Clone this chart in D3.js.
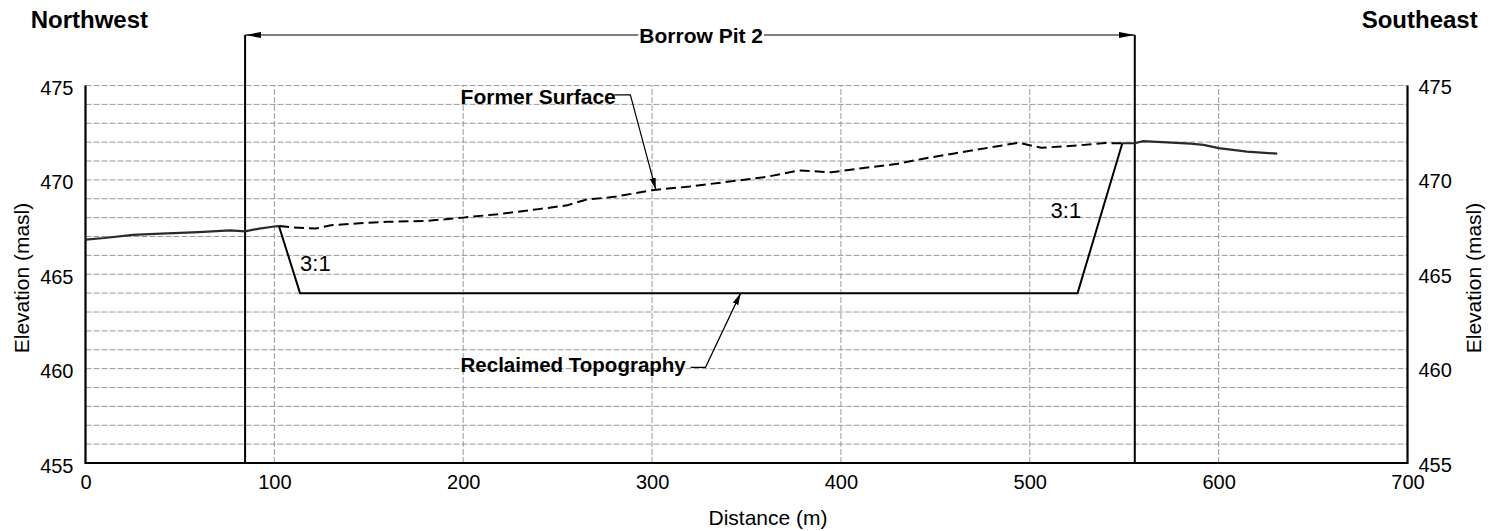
<!DOCTYPE html>
<html>
<head>
<meta charset="utf-8">
<script src="https://cdn.jsdelivr.net/npm/d3@7"></script>
<style>
  html, body { margin: 0; padding: 0; background: #fff; }
  svg { display: block; font-family: "Liberation Sans", Arial, sans-serif; }
</style>
</head>
<body>
<svg id="chart"></svg>
<script>
// Chart size
const width = 1491;
const height = 531;

// Ground west of the pit (solid)
const westDist = [0, 10, 25, 40, 60, 76.6, 84.5, 92, 100, 102.5];
const westElev = [466.83, 466.92, 467.09, 467.15, 467.23, 467.32, 467.27, 467.42, 467.53, 467.55];

// Former surface across the pit (dashed)
const formerDist = [102.5, 110, 122, 130, 145, 160, 180, 200, 220, 240, 255, 265, 280, 300, 320, 340, 360, 378, 395, 410, 430, 445, 460, 478, 494, 506, 525, 540, 549];
const formerElev = [467.55, 467.48, 467.42, 467.6, 467.7, 467.78, 467.82, 468.0, 468.2, 468.45, 468.65, 468.95, 469.1, 469.45, 469.65, 469.9, 470.15, 470.5, 470.4, 470.6, 470.85, 471.15, 471.4, 471.7, 471.97, 471.7, 471.82, 471.95, 471.94];

// Ground east of the pit (solid)
const eastDist = [549, 555.6, 560, 570, 585, 592, 600, 615, 631];
const eastElev = [471.94, 471.94, 472.05, 472.0, 471.92, 471.85, 471.68, 471.5, 471.39];

// Reclaimed topography (pit floor with 3:1 side slopes)
const reclaimDist = [102.5, 113.6, 525.3, 549];
const reclaimElev = [467.53, 464.0, 464.0, 471.94];

// Borrow pit limits
const pitLimits = [84.5, 555.6];

// Ticks
const xTicks = [0, 100, 200, 300, 400, 500, 600, 700];
const xGrid = [100, 200, 300, 400, 500, 600];
const yTicks = [455, 460, 465, 470, 475];
const yGrid = d3.range(456, 476);

const svg = d3.select("#chart")
    .attr("width", width)
    .attr("height", height);

const x = d3.scaleLinear().domain([0, 700]).range([85.5, 1407.5]);
const y = d3.scaleLinear().domain([455, 475]).range([463, 85.5]);

// Markers
const defs = svg.append("defs");
defs.append("marker")
    .attr("id", "arrowLong")
    .attr("viewBox", "0 0 16 6")
    .attr("refX", 16).attr("refY", 3)
    .attr("markerUnits", "userSpaceOnUse")
    .attr("markerWidth", 16).attr("markerHeight", 6)
    .attr("orient", "auto-start-reverse")
    .append("path").attr("d", "M0,0L16,3L0,6Z").attr("fill", "#000");
defs.append("marker")
    .attr("id", "arrowLeader")
    .attr("viewBox", "0 0 12 6")
    .attr("refX", 12).attr("refY", 3)
    .attr("markerUnits", "userSpaceOnUse")
    .attr("markerWidth", 12).attr("markerHeight", 6)
    .attr("orient", "auto")
    .append("path").attr("d", "M0,0L12,3L0,6Z").attr("fill", "#000");

// Gridlines
svg.append("g")
    .selectAll("line")
    .data(yGrid)
    .enter().append("line")
    .attr("x1", x(0)).attr("x2", x(700))
    .attr("y1", d => y(d)).attr("y2", d => y(d))
    .attr("stroke", "#9a9a9a")
    .attr("stroke-width", 1)
    .attr("stroke-dasharray", "6,2");

svg.append("g")
    .selectAll("line")
    .data(xGrid)
    .enter().append("line")
    .attr("x1", d => x(d)).attr("x2", d => x(d))
    .attr("y1", y(455)).attr("y2", y(475))
    .attr("stroke", "#9a9a9a")
    .attr("stroke-width", 1)
    .attr("stroke-dasharray", "6,2");

// Frame: left, bottom, right
svg.append("path")
    .attr("d", `M${x(0)},${y(475)}V${y(455)}H${x(700)}V${y(475)}`)
    .attr("fill", "none")
    .attr("stroke", "#000")
    .attr("stroke-width", 2.2);

// Axes (labels only)
const fontFam = "'Liberation Sans', Arial, sans-serif";

const xAxis = svg.append("g")
    .attr("transform", `translate(0,${y(455)})`)
    .call(d3.axisBottom(x).tickValues(xTicks).tickSize(0).tickPadding(12).tickFormat(d3.format("d")));
const yAxisL = svg.append("g")
    .attr("transform", `translate(${x(0)},0)`)
    .call(d3.axisLeft(y).tickValues(yTicks).tickSize(0).tickPadding(12).tickFormat(d3.format("d")));
const yAxisR = svg.append("g")
    .attr("transform", `translate(${x(700)},0)`)
    .call(d3.axisRight(y).tickValues(yTicks).tickSize(0).tickPadding(11).tickFormat(d3.format("d")));

[xAxis, yAxisL, yAxisR].forEach(g => {
    g.select(".domain").remove();
    g.selectAll("text")
        .attr("font-family", fontFam)
        .attr("font-size", 20)
        .attr("fill", "#000");
});
yAxisL.selectAll("text").attr("dy", "0.45em");
yAxisR.selectAll("text").attr("dy", "0.4em");

// Borrow pit limit lines
const bracketY = 35;
svg.append("g")
    .selectAll("line")
    .data(pitLimits)
    .enter().append("line")
    .attr("x1", d => x(d)).attr("x2", d => x(d))
    .attr("y1", bracketY).attr("y2", y(455))
    .attr("stroke", "#000")
    .attr("stroke-width", 2);

// Bracket with arrows and label
svg.append("line")
    .attr("x1", x(pitLimits[0])).attr("x2", x(pitLimits[1]))
    .attr("y1", bracketY).attr("y2", bracketY)
    .attr("stroke", "#000")
    .attr("stroke-width", 1.2)
    .attr("marker-start", "url(#arrowLong)")
    .attr("marker-end", "url(#arrowLong)");

const pitLabel = svg.append("text")
    .attr("x", x(326))
    .attr("y", bracketY + 8)
    .attr("text-anchor", "middle")
    .attr("font-family", fontFam)
    .attr("font-weight", "bold")
    .attr("font-size", 21)
    .text("Borrow Pit 2");
const bb = pitLabel.node().getBBox();
svg.insert("rect", () => pitLabel.node())
    .attr("x", bb.x - 1).attr("y", bracketY - 3)
    .attr("width", bb.width + 2).attr("height", 6)
    .attr("fill", "#fff");

// Terrain lines
const line = d3.line()
    .x(d => x(d[0]))
    .y(d => y(d[1]));

const west = d3.zip(westDist, westElev);
const former = d3.zip(formerDist, formerElev);
const east = d3.zip(eastDist, eastElev);
const reclaim = d3.zip(reclaimDist, reclaimElev);

svg.append("path")
    .datum(former)
    .attr("d", line)
    .attr("fill", "none")
    .attr("stroke", "#000")
    .attr("stroke-width", 2)
    .attr("stroke-dasharray", "10,5");

[west, east].forEach(seg => {
    svg.append("path")
        .datum(seg)
        .attr("d", line)
        .attr("fill", "none")
        .attr("stroke", "#2a2a2a")
        .attr("stroke-width", 2.2);
});

svg.append("path")
    .datum(reclaim)
    .attr("d", line)
    .attr("fill", "none")
    .attr("stroke", "#000")
    .attr("stroke-width", 2)
    .attr("stroke-linejoin", "miter");

// Slope labels
svg.append("text")
    .attr("x", x(113.6)).attr("y", y(465.15))
    .attr("font-family", fontFam).attr("font-size", 22)
    .text("3:1");
svg.append("text")
    .attr("x", x(511)).attr("y", y(468.0))
    .attr("font-family", fontFam).attr("font-size", 22)
    .text("3:1");

// Callouts
svg.append("text")
    .attr("x", x(198.6)).attr("y", y(474.02))
    .attr("font-family", fontFam).attr("font-weight", "bold").attr("font-size", 21)
    .text("Former Surface");
svg.append("path")
    .attr("d", `M${x(280)},${y(474.5)}H${x(288.5)}L${x(302)},${y(469.47)}`)
    .attr("fill", "none")
    .attr("stroke", "#000")
    .attr("stroke-width", 1.2)
    .attr("marker-end", "url(#arrowLeader)");

svg.append("text")
    .attr("x", x(198.6)).attr("y", y(459.8))
    .attr("font-family", fontFam).attr("font-weight", "bold").attr("font-size", 20.5)
    .text("Reclaimed Topography");
svg.append("path")
    .attr("d", `M${x(320.4)},${y(460.07)}H${x(328.3)}L${x(346.9)},${y(464.0)}`)
    .attr("fill", "none")
    .attr("stroke", "#000")
    .attr("stroke-width", 1.2)
    .attr("marker-end", "url(#arrowLeader)");

// Direction labels
svg.append("text")
    .attr("x", 30.7).attr("y", 28.3)
    .attr("font-family", fontFam).attr("font-weight", "bold").attr("font-size", 24)
    .text("Northwest");
svg.append("text")
    .attr("x", 1477.7).attr("y", 28.3)
    .attr("text-anchor", "end")
    .attr("font-family", fontFam).attr("font-weight", "bold").attr("font-size", 24)
    .text("Southeast");

// Axis titles
svg.append("text")
    .attr("x", 768).attr("y", 525)
    .attr("text-anchor", "middle")
    .attr("font-family", fontFam).attr("font-size", 21)
    .text("Distance (m)");
svg.append("text")
    .attr("transform", "translate(28.5,278) rotate(-90)")
    .attr("text-anchor", "middle")
    .attr("font-family", fontFam).attr("font-size", 21)
    .text("Elevation (masl)");
svg.append("text")
    .attr("transform", "translate(1481,278) rotate(-90)")
    .attr("text-anchor", "middle")
    .attr("font-family", fontFam).attr("font-size", 21)
    .text("Elevation (masl)");
</script>
</body>
</html>
